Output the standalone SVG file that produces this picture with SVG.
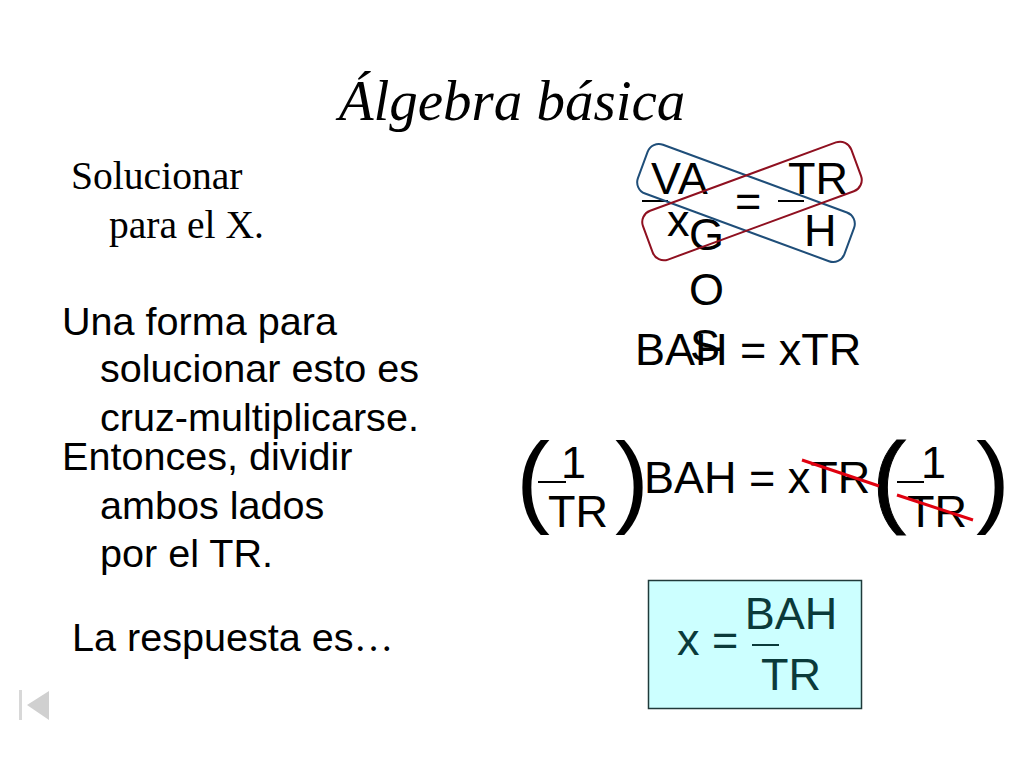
<svg xmlns="http://www.w3.org/2000/svg" width="1024" height="768" viewBox="0 0 1024 768">
<style>
.s{font-family:"Liberation Sans",Arial,sans-serif;fill:#000}
.m{font-size:45px}
.b{font-size:39.600px}
.c{text-anchor:middle}
.r{font-family:"Liberation Serif","Times New Roman",serif;fill:#000}
.p{font-size:102px}
.f{stroke:#000;stroke-width:2;fill:none}
.x{stroke:#e0000f;stroke-width:3;fill:none}
.t{fill:#0a3a3a}
</style>
<rect width="1024" height="768" fill="#fff"/>
<g id="title"><text class="r c" x="512" y="120" font-size="57" font-style="italic">Álgebra básica</text></g>
<g id="intro">
<text class="r" x="71" y="189" font-size="39.600">Solucionar</text>
<text class="r" x="109" y="238" font-size="39.600">para el X.</text>
</g>
<g id="method1">
<text class="s b" x="62" y="335">Una forma para</text>
<text class="s b" x="100" y="382">solucionar esto es</text>
<text class="s b" x="100" y="431">cruz-multiplicarse.</text>
</g>
<g id="method2">
<text class="s b" x="62" y="470">Entonces, dividir</text>
<text class="s b" x="100" y="519">ambos lados</text>
<text class="s b" x="100" y="567">por el TR.</text>
</g>
<g id="answer"><text class="s b" x="72" y="651">La respuesta es<tspan class="r">…</tspan></text></g>
<g id="eq1">
<text class="s m" x="651" y="194">VA</text>
<text class="s m" x="788" y="194">TR</text>
<path class="f" d="M642 201H668M778 201H804"/>
<text class="s m" x="735" y="216">=</text>
<text class="s m" x="667" y="236">x</text>
<text class="s m" x="689" y="250">G</text>
<text class="s m" x="689" y="305">O</text>
<text class="s m" x="690" y="361">S</text>
<text class="s m" x="804" y="246">H</text>
</g>
<g id="connectors">
<rect x="636" y="177" width="220" height="52" rx="12" transform="rotate(20.200 746 203)" fill="none" stroke="#1f4e79" stroke-width="2"/>
<rect x="641" y="175" width="222" height="52" rx="12" transform="rotate(-20.200 752 201)" fill="none" stroke="#8f1020" stroke-width="2"/>
</g>
<g id="eq2"><text class="s m" x="635" y="365">BAH = xTR</text></g>
<g id="eq3">
<text class="s p" x="516" y="514">(</text>
<text class="s m" x="561" y="478">1</text>
<path class="f" d="M538 482H566"/>
<text class="s m" x="548" y="527">TR</text>
<text class="s p" x="615" y="514">)</text>
<text class="s m" x="644" y="493">BAH = xTR</text>
<text class="s p" x="872" y="514" stroke="#000" stroke-width="1">(</text>
<text class="s m" x="921" y="478">1</text>
<path class="f" d="M897 482H924"/>
<text class="s m" x="907" y="527">TR</text>
<text class="s p" x="976" y="514">)</text>
<path class="x" d="M802 460L879 486M897 495L973 520"/>
</g>
<g id="result">
<rect x="648.500" y="580.500" width="213" height="128" fill="#ccffff" stroke="#1f3a3a" stroke-width="1.500"/>
<text class="s m t" x="677" y="655">x =</text>
<path d="M752 645H779" stroke="#0a3a3a" stroke-width="2"/>
<text class="s m c t" x="791" y="629">BAH</text>
<text class="s m c t" x="791" y="690">TR</text>
</g>
<g id="nav">
<rect x="19" y="690" width="3" height="30" fill="#d8d8d8"/>
<path d="M49 691V720L27 705Z" fill="#d0d0d0"/>
</g>
</svg>
